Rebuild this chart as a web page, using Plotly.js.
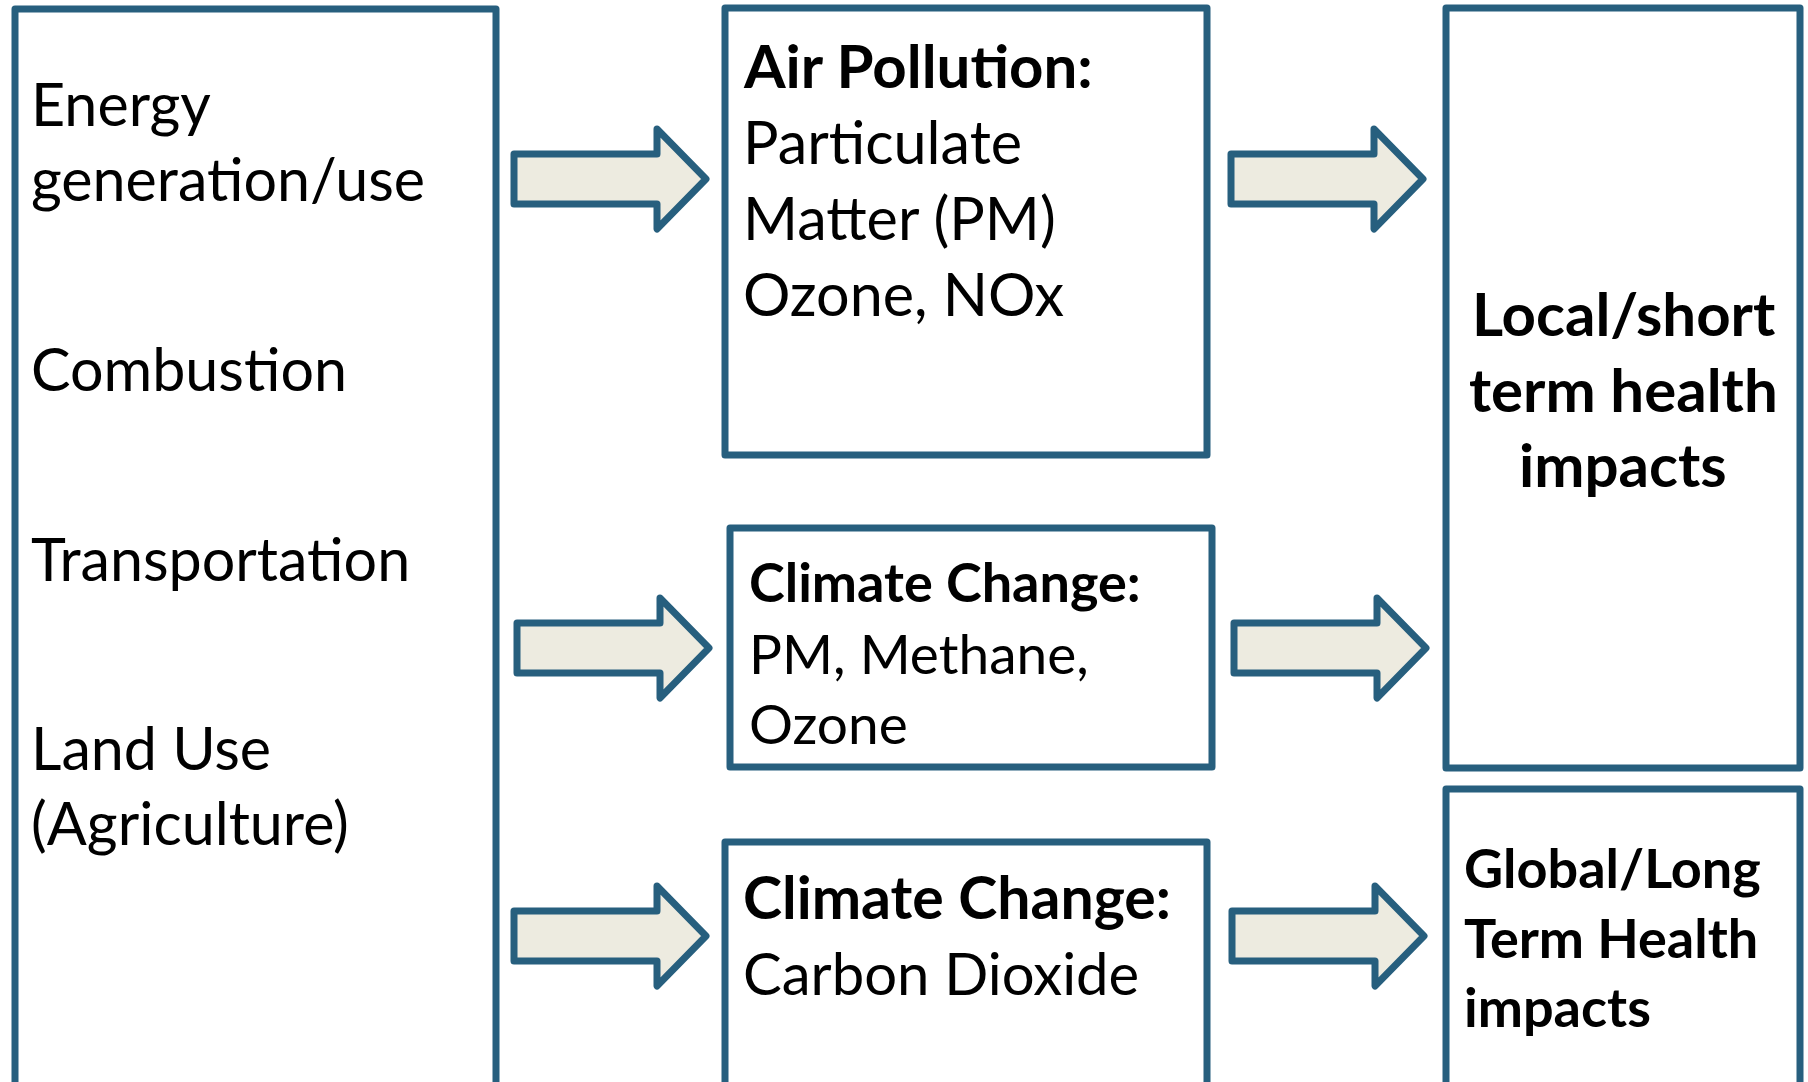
<!DOCTYPE html>
<html>
<head>
<meta charset="utf-8">
<script src="https://cdn.plot.ly/plotly-3.0.1.min.js"></script>
<style>
  html, body { margin: 0; padding: 0; background: #ffffff; }
  #chart { width: 1808px; height: 1082px; }
  .js-plotly-plot .shapelayer path { stroke-linejoin: round !important; }
</style>
</head>
<body>
<div id="chart"></div>
<script>
// ---- Text content (data) ----
const sourceLines = ["Energy", "generation/use", "Combustion", "Transportation", "Land Use", "(Agriculture)"];
const airPollutionTitle = "Air Pollution:";
const airPollutionLines = ["Particulate", "Matter (PM)", "Ozone, NOx"];
const climateShortTitle = "Climate Change:";
const climateShortLines = ["PM, Methane,", "Ozone"];
const climateLongTitle = "Climate Change:";
const climateLongLines = ["Carbon Dioxide"];
const localImpactLines = ["Local/short", "term health", "impacts"];
const globalImpactLines = ["Global/Long", "Term Health", "impacts"];

// ---- Styling / geometry (layout, in page pixels) ----
const BORDER = "#275F7E";
const ARROW_FILL = "#EDEBE0";
const STROKE = 7;
const FONT = "Lato, 'Open Sans', sans-serif";

const boxes = [
  { x0: 15,   x1: 496,  y0: 9,   y1: 1120 },  // sources
  { x0: 725,  x1: 1207, y0: 8,   y1: 455 },   // air pollution
  { x0: 730,  x1: 1212, y0: 528, y1: 767 },   // climate change (short-lived)
  { x0: 725,  x1: 1207, y0: 842, y1: 1120 },  // climate change (CO2)
  { x0: 1446, x1: 1800, y0: 8,   y1: 768 },   // local impacts
  { x0: 1446, x1: 1800, y0: 789, y1: 1120 }   // global impacts
];

const arrows = [
  { xs: 514,  xh: 657,  xt: 706,  yc: 179 },
  { xs: 517,  xh: 660,  xt: 709,  yc: 648 },
  { xs: 514,  xh: 657,  xt: 706,  yc: 936 },
  { xs: 1231, xh: 1374, xt: 1423, yc: 179 },
  { xs: 1234, xh: 1377, xt: 1426, yc: 648 },
  { xs: 1232, xh: 1375, xt: 1424, yc: 936 }
];
const SHAFT_HALF = 25, HEAD_HALF = 50;

// text blocks: which lines, where (left x or center x), baselines, size, weight
const textBlocks = [
  { lines: sourceLines, x: 29, anchor: "left", baselines: [127, 202, 392, 582, 771, 846], size: 59.2, bold: false },
  { lines: [airPollutionTitle], x: 741, anchor: "left", baselines: [88], size: 60, bold: true },
  { lines: airPollutionLines, x: 741, anchor: "left", baselines: [164, 240, 316], size: 59.3, bold: false },
  { lines: [climateShortTitle], x: 747, anchor: "left", baselines: [603], size: 54, bold: true },
  { lines: climateShortLines, x: 747, anchor: "left", baselines: [674, 744], size: 55, bold: false },
  { lines: [climateLongTitle], x: 741, anchor: "left", baselines: [920], size: 59, bold: true },
  { lines: climateLongLines, x: 741, anchor: "left", baselines: [995], size: 58, bold: false },
  { lines: localImpactLines, x: 1623, anchor: "center", baselines: [336, 412, 487], size: 60, bold: true },
  { lines: globalImpactLines, x: 1462, anchor: "left", baselines: [889, 959, 1028], size: 54, bold: true }
];

// ---- Build shapes ----
const shapes = [];
boxes.forEach(b => {
  shapes.push({
    type: "rect", xref: "x", yref: "y",
    x0: b.x0, x1: b.x1, y0: b.y0, y1: b.y1,
    line: { color: BORDER, width: STROKE },
    fillcolor: "rgba(0,0,0,0)"
  });
});
arrows.forEach(a => {
  const p = [
    [a.xs, a.yc - SHAFT_HALF], [a.xh, a.yc - SHAFT_HALF], [a.xh, a.yc - HEAD_HALF],
    [a.xt, a.yc], [a.xh, a.yc + HEAD_HALF], [a.xh, a.yc + SHAFT_HALF], [a.xs, a.yc + SHAFT_HALF]
  ];
  shapes.push({
    type: "path", xref: "x", yref: "y",
    path: "M " + p.map(q => q[0] + "," + q[1]).join(" L ") + " Z",
    line: { color: BORDER, width: STROKE },
    fillcolor: ARROW_FILL
  });
});

// ---- Build annotations ----
const annotations = [];
textBlocks.forEach(tb => {
  tb.lines.forEach((line, i) => {
    annotations.push({
      xref: "x", yref: "y",
      x: tb.x, y: tb.baselines[i] - 0.39 * tb.size,
      xanchor: tb.anchor, yanchor: "middle",
      align: tb.anchor,
      showarrow: false,
      text: tb.bold ? "<b>" + line + "</b>" : line,
      font: { family: FONT, size: tb.size, color: "#000000" }
    });
  });
});

const layout = {
  width: 1808, height: 1082,
  margin: { l: 0, r: 0, t: 0, b: 0, pad: 0 },
  paper_bgcolor: "#ffffff", plot_bgcolor: "#ffffff",
  showlegend: false,
  xaxis: { range: [0, 1808], visible: false, fixedrange: true },
  yaxis: { range: [1082, 0], visible: false, fixedrange: true },
  shapes: shapes,
  annotations: annotations
};

Plotly.newPlot("chart", [], layout, { displayModeBar: false, staticPlot: true });
</script>
</body>
</html>
